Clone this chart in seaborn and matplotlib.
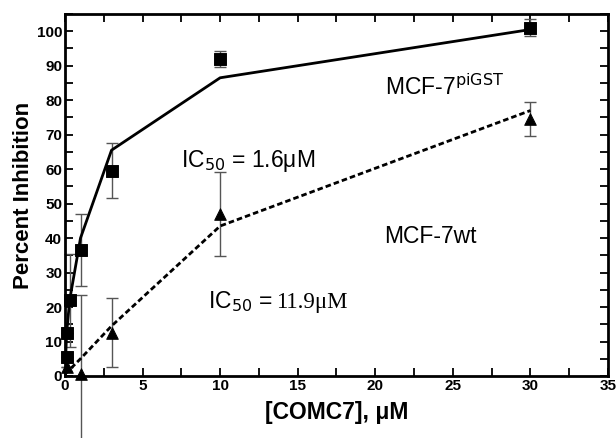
import matplotlib
matplotlib.use("Agg")
import matplotlib.pyplot as plt
import seaborn as sns
import pandas as pd
from matplotlib.ticker import MultipleLocator

# Data
gst_x = [0.1, 0.1, 0.3, 1, 3, 10, 30]
gst_y = [5.5, 12.5, 22, 36.5, 59.5, 92, 101]
gst_err = [0, 0, 13.5, 10.5, 8, 2.3, 2.5]
gst_fit_x = [0, 0.1, 0.3, 1, 3, 10, 30]
gst_fit_y = [0, 12, 22, 40, 65.5, 86.5, 100.5]

wt_x = [0.1, 1, 3, 10, 30]
wt_y = [2.5, 0.5, 12.5, 47, 74.5]
wt_err = [0, 23, 10, 12.2, 5]
wt_fit_x = [0, 1, 3, 10, 30]
wt_fit_y = [0.5, 5, 14.5, 43.5, 77]

sns.set_theme(style="ticks")
plt.rcParams['font.family'] = ['Liberation Sans', 'DejaVu Sans']
plt.rcParams['text.color'] = 'black'
plt.rcParams['axes.labelcolor'] = 'black'

fig = plt.figure(figsize=(6.16, 4.38), dpi=100)
ax = fig.add_axes([0.1055, 0.1416, 0.8815, 0.8264])

gst = pd.DataFrame({"x": gst_x, "y": gst_y})
gstf = pd.DataFrame({"x": gst_fit_x, "y": gst_fit_y})
wt = pd.DataFrame({"x": wt_x, "y": wt_y})
wtf = pd.DataFrame({"x": wt_fit_x, "y": wt_fit_y})

ax.errorbar(gst_x, gst_y, yerr=gst_err, fmt='none', ecolor='#555555',
            elinewidth=1, capsize=4, capthick=1, clip_on=False, zorder=2)
ax.errorbar(wt_x, wt_y, yerr=wt_err, fmt='none', ecolor='#555555',
            elinewidth=1, capsize=4, capthick=1, clip_on=False, zorder=2)

sns.lineplot(data=gstf, x="x", y="y", ax=ax, color='black', lw=2, zorder=3,
             estimator=None, sort=False)
sns.lineplot(data=wtf, x="x", y="y", ax=ax, color='black', lw=2, zorder=3,
             estimator=None, sort=False, linestyle=(0, (2.0, 1.1)))
sns.scatterplot(data=gst, x="x", y="y", ax=ax, marker='s', s=70, color='black',
                edgecolor='black', zorder=4, clip_on=False)
sns.scatterplot(data=wt, x="x", y="y", ax=ax, marker='^', s=70, color='black',
                edgecolor='black', zorder=4, clip_on=False)

ax.set_xlim(0, 35)
ax.set_ylim(0, 105)
ax.xaxis.set_major_locator(MultipleLocator(5))
ax.xaxis.set_minor_locator(MultipleLocator(2.5))
ax.yaxis.set_major_locator(MultipleLocator(10))
ax.yaxis.set_minor_locator(MultipleLocator(5))
ax.tick_params(which='both', direction='in', top=True, right=True, width=1.3,
               colors='black', labelcolor='black')
ax.tick_params(which='major', length=6, labelsize=11, pad=2)
ax.tick_params(which='minor', length=6)
for lab in ax.get_xticklabels() + ax.get_yticklabels():
    lab.set_fontweight('bold')
for s in ax.spines.values():
    s.set_linewidth(2)
    s.set_color('black')

ax.set_xlabel("[COMC7], μM", fontsize=16.5, fontweight='bold', labelpad=6,
              color='black')
ax.set_ylabel("Percent Inhibition", fontsize=16, fontweight='bold', labelpad=2,
              color='black')

fs = 16.5
ax.text(20.6, 81.5, r"MCF-7$^{\mathrm{piGST}}$", fontsize=fs, ha='left',
        va='baseline', color='black')
ax.text(7.5, 60.5, r"IC$_{50}$ = 1.6μM", fontsize=fs, ha='left',
        va='baseline', color='black')
ax.text(20.6, 38.5, "MCF-7wt", fontsize=fs, ha='left', va='baseline',
        color='black')
ax.text(9.2, 19.8, r"IC$_{50}$ = ", fontsize=fs, ha='left', va='baseline',
        color='black')
ax.text(13.6, 19.8, "11.9μM", fontsize=fs, ha='left', va='baseline',
        family=['Liberation Serif', 'DejaVu Serif'], color='black')

fig.savefig("out.png", dpi=100)
